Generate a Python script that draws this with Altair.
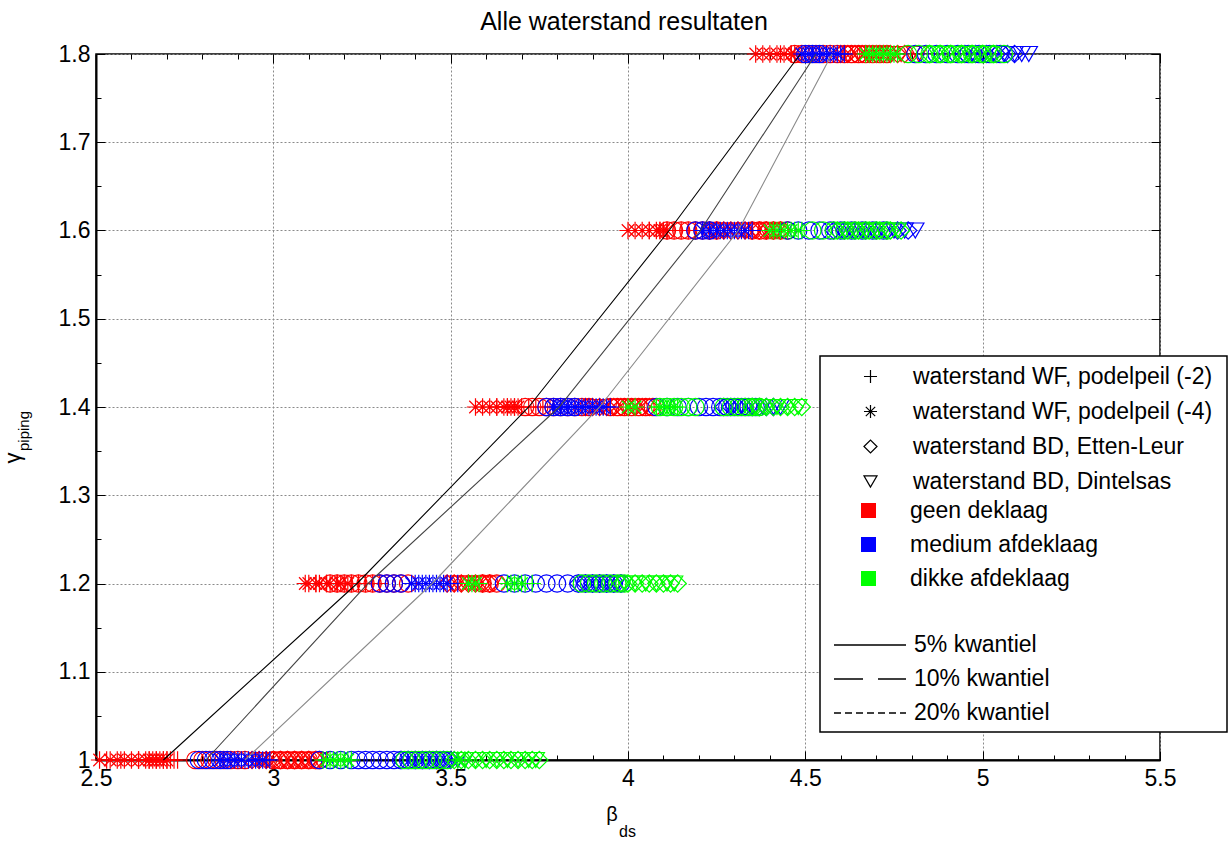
import altair as alt
import pandas as pd

FONT = "Liberation Sans"

# ---------------- data ----------------
levels = [1.0, 1.2, 1.4, 1.6, 1.8]

shape_names = [
    "waterstand WF, podelpeil (-2)",
    "waterstand WF, podelpeil (-4)",
    "waterstand BD, Etten-Leur",
    "waterstand BD, Dintelsas",
    "overig",
]
color_names = ["geen deklaag", "medium afdeklaag", "dikke afdeklaag"]
kwantiel_names = ["5% kwantiel", "10% kwantiel", "20% kwantiel"]

# beta values per gamma level (one inner list per level 1.0 .. 1.8)
red_wf4 = [[2.51, 2.54, 2.56, 2.58, 2.60, 2.62, 2.64, 2.65, 2.66, 2.67, 2.68, 2.69, 2.70],
           [3.09, 3.10, 3.12, 3.13, 3.15, 3.16, 3.18, 3.19, 3.21],
           [3.57, 3.59, 3.61, 3.63, 3.65, 3.66, 3.67, 3.68, 3.69],
           [4.00, 4.02, 4.04, 4.06, 4.08, 4.09, 4.10, 4.11],
           [4.36, 4.38, 4.40, 4.42, 4.44, 4.46, 4.47]]
red_wf2 = [[2.53, 2.57, 2.62, 2.65, 2.67, 2.69, 2.70, 2.71, 2.72, 2.73],
           [3.12, 3.15, 3.18, 3.20, 3.22, 3.24, 3.26, 3.28, 3.30],
           [3.63, 3.66, 3.68, 3.70, 3.72, 3.74, 3.76, 3.78],
           [4.06, 4.09, 4.11, 4.13, 4.15, 4.17, 4.19, 4.21],
           [4.43, 4.46, 4.48, 4.50, 4.52, 4.54, 4.56]]
red_circ = [[2.78, 2.80, 2.82, 2.84, 2.86, 2.88, 2.90, 2.92, 3.00, 3.02, 3.04, 3.06, 3.08, 3.10, 3.12, 3.13],
            [3.16, 3.18, 3.20, 3.22, 3.24, 3.26, 3.28, 3.30, 3.32, 3.34, 3.36, 3.38, 3.59, 3.61, 3.63],
            [3.71, 3.73, 3.75, 3.77, 3.79, 3.81, 3.83, 3.85, 3.87, 3.89, 3.95, 3.97, 3.99, 4.01, 4.03, 4.05, 4.07],
            [4.11, 4.13, 4.15, 4.17, 4.19, 4.21, 4.23, 4.25, 4.35, 4.37, 4.39, 4.41, 4.43, 4.45],
            [4.47, 4.49, 4.51, 4.53, 4.55, 4.57, 4.59, 4.61, 4.63, 4.65, 4.67, 4.69, 4.71, 4.73]]
red_etten = [[2.94, 2.96, 2.98, 3.00, 3.02, 3.04, 3.06, 3.08, 3.10, 3.12],
             [3.49, 3.51, 3.53, 3.55, 3.57, 3.59, 3.61],
             [3.88, 3.90, 3.92, 3.94, 3.96, 3.98, 4.00, 4.02, 4.04, 4.06],
             [4.23, 4.25, 4.27, 4.29, 4.31, 4.33, 4.35, 4.37, 4.39, 4.41, 4.43],
             [4.60, 4.62, 4.64, 4.66, 4.68, 4.70, 4.72, 4.74, 4.76, 4.78]]
red_dintel = [[2.96, 2.98, 3.00, 3.03, 3.05, 3.07, 3.09, 3.11, 3.13],
              [3.51, 3.53, 3.55, 3.57, 3.59, 3.62],
              [3.90, 3.93, 3.96, 3.99, 4.02, 4.05],
              [4.24, 4.27, 4.30, 4.33, 4.36, 4.39, 4.42],
              [4.62, 4.65, 4.68, 4.71, 4.74, 4.77, 4.80, 4.82]]

blue_wf4 = [[2.85, 2.87, 2.89, 2.91, 2.93, 2.95, 2.97],
            [3.39, 3.41, 3.43, 3.45, 3.47, 3.49],
            [3.79, 3.81, 3.83, 3.85, 3.87, 3.89, 3.91, 3.93],
            [4.21, 4.23, 4.25, 4.27, 4.29, 4.31, 4.33],
            [4.49, 4.51, 4.53, 4.55, 4.57, 4.59]]
blue_wf2 = [[2.86, 2.88, 2.90, 2.92, 2.94, 2.96, 2.98, 2.99],
            [3.40, 3.42, 3.44, 3.46, 3.48, 3.50, 3.52],
            [3.80, 3.82, 3.84, 3.86, 3.88, 3.90, 3.92, 3.94, 3.95],
            [4.22, 4.24, 4.26, 4.28, 4.30, 4.32, 4.34, 4.35],
            [4.50, 4.52, 4.54, 4.56, 4.58, 4.60, 4.61]]
blue_circ = [[2.79, 2.81, 2.83, 2.85, 2.87, 3.13, 3.16, 3.19, 3.22, 3.24, 3.26, 3.28, 3.30, 3.32, 3.34,
              3.36, 3.38, 3.40, 3.42, 3.44, 3.46, 3.48],
             [3.30, 3.32, 3.34, 3.36, 3.65, 3.68, 3.71, 3.74, 3.77, 3.80, 3.83, 3.86, 3.88, 3.90, 3.92,
              3.94, 3.96, 3.98],
             [3.77, 3.79, 3.81, 3.83, 3.85, 4.08, 4.11, 4.14, 4.17, 4.20, 4.22, 4.24, 4.26, 4.28, 4.30,
              4.32, 4.34, 4.36],
             [4.19, 4.21, 4.23, 4.45, 4.48, 4.51, 4.54, 4.57, 4.60, 4.63, 4.66, 4.69, 4.72],
             [4.50, 4.52, 4.54, 4.81, 4.84, 4.87, 4.90, 4.93, 4.96, 4.99, 5.02, 5.05]]
blue_etten = [[3.36, 3.38, 3.40, 3.42, 3.44, 3.46, 3.48, 3.50],
              [3.86, 3.88, 3.90, 3.92, 3.94, 3.96, 3.98],
              [4.27, 4.29, 4.31, 4.33, 4.35, 4.37, 4.39, 4.41],
              [4.58, 4.61, 4.64, 4.67, 4.70, 4.73, 4.76, 4.79],
              [4.95, 4.98, 5.01, 5.04, 5.07, 5.09]]
blue_dintel = [[3.40, 3.43, 3.46, 3.48, 3.50, 3.52, 3.54],
               [3.88, 3.91, 3.94, 3.97],
               [4.29, 4.32, 4.35, 4.38, 4.41, 4.43],
               [4.60, 4.63, 4.66, 4.69, 4.72, 4.75, 4.78, 4.81],
               [4.97, 5.00, 5.03, 5.06, 5.09, 5.11, 5.13]]

green_wf4 = [[3.15, 3.17, 3.19, 3.21, 3.52],
             [3.55, 3.57, 3.66, 3.68, 3.70],
             [4.00, 4.02, 4.09, 4.11, 4.13],
             [4.40, 4.42, 4.44, 4.46, 4.48],
             [4.67, 4.69, 4.71, 4.73, 4.75]]
green_wf2 = [[3.14, 3.16, 3.18, 3.20, 3.22, 3.54],
             [3.56, 3.58, 3.67, 3.69, 3.71, 3.73],
             [4.08, 4.10, 4.12, 4.14],
             [4.41, 4.43, 4.45, 4.47, 4.49],
             [4.68, 4.70, 4.72, 4.74, 4.76]]
green_circ = [[3.37, 3.39, 3.41, 3.43, 3.45, 3.47, 3.49],
              [3.87, 3.89, 3.91, 3.93, 3.95, 3.97, 3.99],
              [4.09, 4.11, 4.13, 4.15, 4.17, 4.19, 4.27, 4.29, 4.31, 4.33, 4.35, 4.37],
              [4.52, 4.55, 4.58, 4.61, 4.64, 4.67, 4.70, 4.73],
              [4.79, 4.82, 4.85, 4.88, 4.91, 4.94, 4.97, 5.00, 5.03, 5.06]]
green_etten = [[3.51, 3.53, 3.55, 3.57, 3.59, 3.61, 3.63, 3.65, 3.67, 3.69, 3.71, 3.73, 3.75],
               [3.98, 4.00, 4.02, 4.04, 4.06, 4.08, 4.10, 4.12, 4.14],
               [4.35, 4.37, 4.39, 4.41, 4.43, 4.45, 4.47, 4.49],
               [4.59, 4.62, 4.65, 4.68, 4.71, 4.74, 4.77],
               [4.85, 4.88, 4.91, 4.94, 4.97, 5.00, 5.03]]
green_dintel = [[3.54, 3.57, 3.60, 3.63, 3.66, 3.69, 3.72, 3.74],
                [3.99, 4.02, 4.05, 4.08, 4.11, 4.13],
                [4.36, 4.39, 4.42, 4.45, 4.48],
                [4.61, 4.64, 4.67, 4.70, 4.73, 4.76],
                [4.87, 4.90, 4.93, 4.96, 4.99, 5.02]]

# quantile lines: beta at each gamma level
q05 = [2.69, 3.236, 3.72, 4.116, 4.486]
q10 = [2.81, 3.267, 3.806, 4.204, 4.53]
q20 = [2.92, 3.448, 3.92, 4.311, 4.575]

# tick positions
x_ticks = [2.5, 3.0, 3.5, 4.0, 4.5, 5.0, 5.5]
x_minor = [2.5, 2.6, 2.7, 2.8, 2.9, 3.0, 3.1, 3.2, 3.3, 3.4, 3.5, 3.6, 3.7, 3.8,
           3.9, 4.0, 4.1, 4.2, 4.3, 4.4, 4.5, 4.6, 4.7, 4.8, 4.9, 5.0, 5.1, 5.2,
           5.3, 5.4, 5.5]
y_ticks = [1.0, 1.1, 1.2, 1.3, 1.4, 1.5, 1.6, 1.7, 1.8]
y_minor = [1.0, 1.05, 1.1, 1.15, 1.2, 1.25, 1.3, 1.35, 1.4, 1.45, 1.5, 1.55,
           1.6, 1.65, 1.7, 1.75, 1.8]

# ---------------- styles ----------------
shape_paths = [
    "M-1,0L1,0M0,-1L0,1",
    "M-1,0L1,0M0,-1L0,1M-0.72,-0.72L0.72,0.72M-0.72,0.72L0.72,-0.72",
    "diamond",
    "triangle-down",
    "circle",
]
color_values = ["#ff0000", "#0000ff", "#00ff00"]
kwantiel_dash = [[1, 0], [29, 15], [7, 4]]
kwantiel_colors = ["#000000", "#444444", "#8a8a8a"]

W, H = 1064, 706

# ---------------- tables ----------------
series = [
    (color_names[0], shape_names[1], red_wf4),
    (color_names[0], shape_names[0], red_wf2),
    (color_names[0], shape_names[4], red_circ),
    (color_names[0], shape_names[2], red_etten),
    (color_names[0], shape_names[3], red_dintel),
    (color_names[1], shape_names[1], blue_wf4),
    (color_names[1], shape_names[0], blue_wf2),
    (color_names[1], shape_names[4], blue_circ),
    (color_names[1], shape_names[2], blue_etten),
    (color_names[1], shape_names[3], blue_dintel),
    (color_names[2], shape_names[1], green_wf4),
    (color_names[2], shape_names[0], green_wf2),
    (color_names[2], shape_names[4], green_circ),
    (color_names[2], shape_names[2], green_etten),
    (color_names[2], shape_names[3], green_dintel),
]
rows = []
for deklaag, waterstand, per_level in series:
    for lvl, xs in zip(levels, per_level):
        for b in xs:
            rows.append({"beta": b, "gamma": lvl, "deklaag": deklaag, "waterstand": waterstand})
points_df = pd.DataFrame(rows)

line_rows = []
for name, qs in zip(kwantiel_names, [q05, q10, q20]):
    for lvl, b in zip(levels, qs):
        line_rows.append({"beta": b, "gamma": lvl, "kwantiel": name})
lines_df = pd.DataFrame(line_rows)

one = pd.DataFrame({"beta": [2.5], "gamma": [1.0]})

xscale = alt.Scale(domain=[2.5, 5.5], nice=False, zero=False)
yscale = alt.Scale(domain=[1.0, 1.8], nice=False, zero=False)
color_scale = alt.Scale(domain=color_names, range=color_values)
shape_scale = alt.Scale(domain=shape_names, range=shape_paths)

# ---------------- axes ----------------
x_label_axis = alt.Axis(
    orient="bottom", values=x_ticks, format="~g", title=None,
    labelFont=FONT, labelFontSize=23, labelColor="black", labelPadding=7,
    labelFlush=False, labelOverlap=False,
    ticks=False, tickSize=0, domain=True, domainColor="black", domainWidth=2,
    grid=True, gridColor="#8a8a8a", gridDash=[2, 2], gridWidth=1,
)
y_label_axis = alt.Axis(
    orient="left", values=y_ticks, format="~g", title=None,
    labelFont=FONT, labelFontSize=23, labelColor="black", labelPadding=6,
    labelFlush=False, labelOverlap=False,
    ticks=False, tickSize=0, domain=True, domainColor="black", domainWidth=2,
    grid=True, gridColor="#8a8a8a", gridDash=[2, 2], gridWidth=1,
)


def tick_axis(orient, offset, values, size):
    return alt.Axis(orient=orient, offset=offset, values=values, tickSize=size,
                    tickColor="black", tickWidth=1, labels=False, domain=False,
                    grid=False, title=None)


def axis_layer(xaxis, yaxis):
    return alt.Chart(one).mark_point(opacity=0).encode(
        x=alt.X("beta:Q", scale=xscale, axis=xaxis),
        y=alt.Y("gamma:Q", scale=yscale, axis=yaxis),
    )


axis_layers = [
    axis_layer(tick_axis("top", -H, x_ticks, 9), tick_axis("right", -W, y_ticks, 9)),
    axis_layer(tick_axis("top", -H, x_minor, 5), tick_axis("right", -W, y_minor, 5)),
    axis_layer(tick_axis("bottom", -H, x_ticks, 9), tick_axis("left", -W, y_ticks, 9)),
    axis_layer(tick_axis("bottom", -H, x_minor, 5), tick_axis("left", -W, y_minor, 5)),
]

# ---------------- legends ----------------
common_legend = dict(title=None, orient="none", labelFont=FONT, labelFontSize=23,
                     labelColor="black", labelLimit=400, padding=0,
                     columns=1)
shape_legend = alt.Legend(legendX=763, legendY=311, values=shape_names[:4],
                          symbolSize=170, symbolStrokeWidth=1.2,
                          symbolStrokeColor="black", symbolFillColor="transparent",
                          labelOffset=31, rowPadding=11, **common_legend)
color_legend = alt.Legend(legendX=761, legendY=445, symbolType="square",
                          symbolSize=225, symbolStrokeWidth=0, symbolOpacity=1,
                          labelOffset=30, rowPadding=10, **common_legend)
dash_legend = alt.Legend(legendX=761, legendY=578, symbolType="M-3,0L3,0",
                         symbolSize=576, symbolStrokeWidth=1.3,
                         symbolStrokeColor="black", symbolFillColor="transparent",
                         labelOffset=31, rowPadding=9, **common_legend)

# ---------------- layers ----------------
color_dummy = alt.Chart(pd.DataFrame({"deklaag": color_names})).mark_square(
    filled=True, opacity=0, size=10).encode(
    x=alt.value(0), y=alt.value(0),
    color=alt.Color("deklaag:N", scale=color_scale, legend=color_legend),
)

points = alt.Chart(points_df).mark_point(filled=False, size=300, strokeWidth=1.2, opacity=1).encode(
    x=alt.X("beta:Q", scale=xscale, axis=None),
    y=alt.Y("gamma:Q", scale=yscale, axis=None),
    color=alt.Color("deklaag:N", scale=color_scale, legend=color_legend),
    shape=alt.Shape("waterstand:N", scale=shape_scale, legend=shape_legend),
)


def quant_line(i, xaxis=None, yaxis=None):
    return alt.Chart(lines_df).transform_filter(
        alt.datum.kwantiel == kwantiel_names[i]
    ).mark_line(strokeWidth=1.1, color=kwantiel_colors[i]).encode(
        x=alt.X("beta:Q", scale=xscale, axis=xaxis),
        y=alt.Y("gamma:Q", scale=yscale, axis=yaxis),
    )


lines = [quant_line(0, x_label_axis, y_label_axis), quant_line(1), quant_line(2)]

box = alt.Chart(one).mark_rect(fill="white", stroke="black", strokeWidth=1.5).encode(
    x=alt.value(724), x2=alt.value(1131), y=alt.value(302), y2=alt.value(678)
)

dash_dummy = alt.Chart(pd.DataFrame({"kwantiel": kwantiel_names})).mark_line(
    color="black", strokeWidth=1.3).encode(
    x=alt.value(0), y=alt.value(0),
    strokeDash=alt.StrokeDash("kwantiel:N", scale=alt.Scale(domain=kwantiel_names, range=kwantiel_dash),
                              legend=dash_legend),
)


def text_layer(text, x, y, size, angle=0, align="center", baseline="alphabetic"):
    return alt.Chart(one).mark_text(text=text, font=FONT, fontSize=size, color="black",
                                    align=align, baseline=baseline, angle=angle).encode(
        x=alt.value(x), y=alt.value(y))


texts = [
    text_layer("Alle waterstand resultaten", 528, -24, 25),
    text_layer("\u03b2", 516, 767, 20),
    text_layer("ds", 523, 783, 16, align="left"),
    text_layer("\u03b3", -83, 404, 22, angle=270, baseline="middle"),
    text_layer("piping", -72, 397, 15, angle=270, align="left", baseline="middle"),
]

chart = alt.layer(
    color_dummy, points, *lines, box, dash_dummy, *texts, *axis_layers
).resolve_axis(x="independent", y="independent").properties(
    width=W, height=H,
    padding={"left": 96, "top": 54, "right": 68, "bottom": 81},
    autosize=alt.AutoSizeParams(type="none"),
    background="white",
).configure_view(stroke="black", strokeWidth=1.5).configure_legend(
    symbolBaseStrokeColor="black", symbolBaseFillColor="transparent"
)

chart.save("out.html", embed_options={"renderer": "svg", "actions": False})
